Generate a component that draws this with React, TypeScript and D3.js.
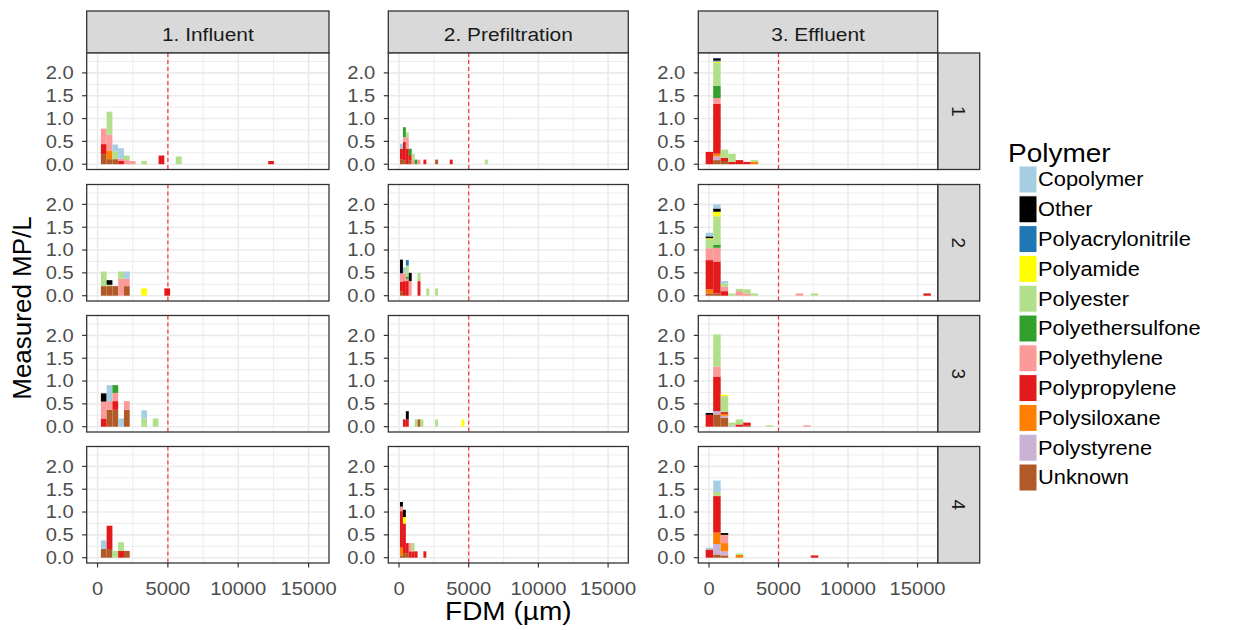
import React from "react";
import * as d3 from "d3";

const polymers = ["Copolymer", "Other", "Polyacrylonitrile", "Polyamide", "Polyester", "Polyethersulfone", "Polyethylene", "Polypropylene", "Polysiloxane", "Polystyrene", "Unknown"];
const polymerColors = ["#A6CEE3", "#000000", "#1F78B4", "#FFFF00", "#B2DF8A", "#33A02C", "#FB9A99", "#E31A1C", "#FF7F00", "#CAB2D6", "#B15928"];
const stages = ["1. Influent", "2. Prefiltration", "3. Effluent"];
const replicates = ["1", "2", "3", "4"];
const binWidth = [410, 210, 540];
const binStart = [237, 70, -240];
const xTicks = [0, 5000, 10000, 15000];
const xMinor = [2500, 7500, 12500];
const yTicks = [0, 0.5, 1, 1.5, 2];
const yMinor = [0.25, 0.75, 1.25, 1.75, 2.25];
const fdmLimit = 5000;

type Seg = [number, string, number];

const influent1: Seg[] = [
  [0, "Unknown", 0.22], [0, "Polypropylene", 0.22], [0, "Polyethylene", 0.34],
  [1, "Unknown", 0.11], [1, "Polysiloxane", 0.19], [1, "Polyethylene", 0.35], [1, "Polyester", 0.5],
  [2, "Unknown", 0.11], [2, "Polyester", 0.17], [2, "Copolymer", 0.15],
  [3, "Polypropylene", 0.07], [3, "Polyethylene", 0.05], [3, "Copolymer", 0.23],
  [4, "Polyethylene", 0.09], [4, "Polyester", 0.1],
  [5, "Polyethylene", 0.07],
  [7, "Polyester", 0.07],
  [10, "Polypropylene", 0.19],
  [13, "Polyester", 0.17],
  [29, "Polypropylene", 0.07],
];
const influent2: Seg[] = [
  [0, "Unknown", 0.21], [0, "Polyester", 0.32],
  [1, "Unknown", 0.21], [1, "Polyester", 0.03], [1, "Other", 0.1],
  [2, "Unknown", 0.21],
  [3, "Polyethylene", 0.37], [3, "Polyester", 0.16],
  [4, "Unknown", 0.21], [4, "Polyethylene", 0.16], [4, "Copolymer", 0.16],
  [7, "Polyamide", 0.16],
  [11, "Polypropylene", 0.16],
];
const influent3: Seg[] = [
  [0, "Polypropylene", 0.18], [0, "Polyethylene", 0.37], [0, "Other", 0.18],
  [1, "Unknown", 0.37], [1, "Polyethylene", 0.19], [1, "Copolymer", 0.35],
  [2, "Unknown", 0.37], [2, "Polypropylene", 0.19], [2, "Polyethylene", 0.18], [2, "Polyethersulfone", 0.17],
  [3, "Copolymer", 0.18],
  [4, "Unknown", 0.37], [4, "Polyethylene", 0.19],
  [7, "Polyester", 0.18], [7, "Copolymer", 0.18],
  [9, "Polyester", 0.18],
];
const influent4: Seg[] = [
  [0, "Unknown", 0.19], [0, "Copolymer", 0.19],
  [1, "Unknown", 0.19], [1, "Polypropylene", 0.51],
  [2, "Polyester", 0.15],
  [3, "Polypropylene", 0.15], [3, "Polyester", 0.19],
  [4, "Unknown", 0.15],
];
const prefiltration1: Seg[] = [
  [0, "Unknown", 0.1], [0, "Polypropylene", 0.24], [0, "Copolymer", 0.11],
  [1, "Unknown", 0.09], [1, "Polypropylene", 0.4], [1, "Polyethylene", 0.1], [1, "Polyethersulfone", 0.22],
  [2, "Polypropylene", 0.34], [2, "Polyethylene", 0.25], [2, "Polyester", 0.11],
  [3, "Unknown", 0.09], [3, "Polypropylene", 0.11], [3, "Polyethersulfone", 0.14],
  [4, "Polyethylene", 0.09], [4, "Polyester", 0.14],
  [5, "Polyethersulfone", 0.1],
  [6, "Polyethylene", 0.1],
  [8, "Polypropylene", 0.1],
  [12, "Unknown", 0.1],
  [17, "Polypropylene", 0.1],
  [29, "Polyester", 0.1],
];
const prefiltration2: Seg[] = [
  [0, "Unknown", 0.1], [0, "Polypropylene", 0.21], [0, "Polyethylene", 0.18], [0, "Other", 0.3],
  [1, "Polypropylene", 0.32], [1, "Polyethylene", 0.17], [1, "Copolymer", 0.13],
  [2, "Polypropylene", 0.32], [2, "Polyethylene", 0.05], [2, "Polyethersulfone", 0.05], [2, "Polyester", 0.24], [2, "Polyacrylonitrile", 0.12],
  [3, "Polyethylene", 0.32], [3, "Other", 0.18],
  [6, "Polypropylene", 0.32], [6, "Polyester", 0.18],
  [9, "Polyester", 0.16],
  [12, "Polyester", 0.16],
];
const prefiltration3: Seg[] = [
  [1, "Polypropylene", 0.16],
  [2, "Polypropylene", 0.16], [2, "Other", 0.18],
  [5, "Polyester", 0.16],
  [6, "Unknown", 0.16],
  [7, "Polyester", 0.16],
  [12, "Polyester", 0.16],
  [21, "Polyamide", 0.16],
];
const prefiltration4: Seg[] = [
  [0, "Unknown", 0.05], [0, "Polysiloxane", 0.17], [0, "Polypropylene", 0.8], [0, "Polyethylene", 0.1], [0, "Other", 0.1],
  [1, "Unknown", 0.1], [1, "Polypropylene", 0.65], [1, "Polyamide", 0.14], [1, "Other", 0.16],
  [2, "Unknown", 0.1], [2, "Polypropylene", 0.22],
  [3, "Polypropylene", 0.14], [3, "Polyethylene", 0.18],
  [4, "Polypropylene", 0.14], [4, "Polyester", 0.18],
  [5, "Polypropylene", 0.14],
  [8, "Polypropylene", 0.14],
];
const effluent1: Seg[] = [
  [0, "Polypropylene", 0.27],
  [1, "Unknown", 0.09], [1, "Polystyrene", 0.08], [1, "Polysiloxane", 0.06], [1, "Polypropylene", 1.09], [1, "Polyethylene", 0.13], [1, "Polyethersulfone", 0.27], [1, "Polyester", 0.5], [1, "Polyamide", 0.03], [1, "Polyacrylonitrile", 0.02], [1, "Other", 0.05],
  [2, "Unknown", 0.07], [2, "Polypropylene", 0.07], [2, "Polyester", 0.18],
  [3, "Polypropylene", 0.05], [3, "Polyester", 0.18],
  [4, "Polypropylene", 0.09],
  [5, "Polypropylene", 0.05],
  [6, "Polysiloxane", 0.05], [6, "Polyester", 0.04],
];
const effluent2: Seg[] = [
  [0, "Unknown", 0.05], [0, "Polysiloxane", 0.09], [0, "Polypropylene", 0.64], [0, "Polyethylene", 0.26], [0, "Polyester", 0.2], [0, "Polyamide", 0.02], [0, "Other", 0.04], [0, "Copolymer", 0.08],
  [1, "Unknown", 0.05], [1, "Polypropylene", 0.7], [1, "Polyethylene", 0.3], [1, "Polyethersulfone", 0.07], [1, "Polyester", 0.62], [1, "Polyamide", 0.1], [1, "Other", 0.07], [1, "Copolymer", 0.09],
  [2, "Polypropylene", 0.1], [2, "Polyethylene", 0.1], [2, "Polyester", 0.07], [2, "Copolymer", 0.05],
  [3, "Polyester", 0.05],
  [4, "Polyethylene", 0.1], [4, "Polyester", 0.05],
  [5, "Polyethylene", 0.05], [5, "Polyester", 0.09],
  [6, "Polyester", 0.05],
  [12, "Polyethylene", 0.05],
  [14, "Polyester", 0.05],
  [29, "Polypropylene", 0.05],
];
const effluent3: Seg[] = [
  [0, "Polypropylene", 0.26], [0, "Other", 0.04],
  [1, "Unknown", 0.27], [1, "Polystyrene", 0.07], [1, "Polypropylene", 0.76], [1, "Polyethylene", 0.22], [1, "Polyester", 0.7],
  [2, "Unknown", 0.2], [2, "Polystyrene", 0.04], [2, "Polysiloxane", 0.04], [2, "Polypropylene", 0.04], [2, "Polyester", 0.35], [2, "Polyamide", 0.03],
  [3, "Polystyrene", 0.03], [3, "Polyester", 0.06],
  [4, "Polypropylene", 0.05], [4, "Polyester", 0.11],
  [5, "Unknown", 0.02], [5, "Polypropylene", 0.07],
  [8, "Polyester", 0.03],
  [13, "Polyethylene", 0.03],
];
const effluent4: Seg[] = [
  [0, "Polypropylene", 0.18], [0, "Copolymer", 0.04],
  [1, "Unknown", 0.07], [1, "Polystyrene", 0.23], [1, "Polysiloxane", 0.25], [1, "Polypropylene", 0.8], [1, "Polyester", 0.09], [1, "Copolymer", 0.25],
  [2, "Unknown", 0.05], [2, "Polystyrene", 0.09], [2, "Polysiloxane", 0.18], [2, "Polyethylene", 0.18], [2, "Other", 0.04],
  [4, "Polysiloxane", 0.06], [4, "Polyester", 0.03],
  [14, "Polypropylene", 0.05],
];

const panelData: Seg[][][] = [
  [influent1, prefiltration1, effluent1],
  [influent2, prefiltration2, effluent2],
  [influent3, prefiltration3, effluent3],
  [influent4, prefiltration4, effluent4],
];

// layout
const colLeft = [86.7, 388.3, 698.3];
const colWidth = [242.3, 240, 239.4];
const rowTop = [53, 184.5, 315.5, 446.5];
const PH = 116.5;
const stripTop = 11;
const FONT = "'Liberation Sans', Arial, sans-serif";
const SX = 1.12;

function T(props: any) {
  const { x, y, size, fill = "#4D4D4D", anchor = "start", sx = SX, rotate = 0, children } = props;
  return (
    <text
      transform={`translate(${x},${y}) rotate(${rotate}) scale(${sx},1)`}
      fontSize={size}
      fill={fill}
      textAnchor={anchor}
      fontFamily={FONT}
    >
      {children}
    </text>
  );
}

function stackPanel(data: Seg[], col: number) {
  const byBin = d3.group(data, (d) => d[0]);
  const out: { x0: number; x1: number; y0: number; y1: number; color: string; key: string }[] = [];
  for (const [bin, segs] of byBin) {
    const sorted = segs.slice().sort((a, b) => polymers.indexOf(b[1]) - polymers.indexOf(a[1]));
    let acc = 0;
    for (const s of sorted) {
      const x0 = binStart[col] + bin * binWidth[col];
      out.push({
        x0,
        x1: x0 + binWidth[col],
        y0: acc,
        y1: acc + s[2],
        color: polymerColors[polymers.indexOf(s[1])],
        key: `${bin}-${s[1]}`,
      });
      acc += s[2];
    }
  }
  return out;
}

export default function App() {
  const stacked = panelData.map((row) => row.map((d, c) => stackPanel(d, c)));
  const yMax = d3.max(stacked.flat(2), (s) => s.y1) as number;
  const y = d3.scaleLinear().domain([-0.05 * yMax, 1.05 * yMax]).range([PH, 0]);
  const xScales = colWidth.map((w) => d3.scaleLinear().domain([-770, 16450]).range([0, w]));

  return (
    <svg width={1237} height={630} style={{ position: "absolute", left: 0, top: 0, background: "#fff" }}>
      <rect x={0} y={0} width={1237} height={630} fill="#ffffff" />
      {stages.map((s, c) => (
        <g key={s}>
          <rect x={colLeft[c]} y={stripTop} width={colWidth[c]} height={rowTop[0] - stripTop} fill="#D9D9D9" stroke="#333333" strokeWidth={1.3} />
          <T x={colLeft[c] + colWidth[c] / 2} y={40.5} size={19} fill="#1A1A1A" anchor="middle" sx={1.1}>{s}</T>
        </g>
      ))}
      {replicates.map((r, i) => (
        <g key={r}>
          <rect x={colLeft[2] + colWidth[2]} y={rowTop[i]} width={42} height={PH} fill="#D9D9D9" stroke="#333333" strokeWidth={1.3} />
          <T x={colLeft[2] + colWidth[2] + 21 - 6.8} y={rowTop[i] + PH / 2} size={19} fill="#1A1A1A" anchor="middle" sx={1} rotate={90}>{r}</T>
        </g>
      ))}
      {panelData.map((row, r) =>
        row.map((_, c) => {
          const x = xScales[c];
          const L = colLeft[c];
          const Tp = rowTop[r];
          const W = colWidth[c];
          return (
            <g key={`${r}-${c}`}>
              <g transform={`translate(${L},${Tp})`}>
                <rect x={0} y={0} width={W} height={PH} fill="#ffffff" />
                {xMinor.map((v) => (
                  <line key={`xm${v}`} x1={x(v)} x2={x(v)} y1={0} y2={PH} stroke="#EBEBEB" strokeWidth={0.9} />
                ))}
                {yMinor.map((v) => (
                  <line key={`ym${v}`} x1={0} x2={W} y1={y(v)} y2={y(v)} stroke="#EBEBEB" strokeWidth={0.9} />
                ))}
                {xTicks.map((v) => (
                  <line key={`xM${v}`} x1={x(v)} x2={x(v)} y1={0} y2={PH} stroke="#EBEBEB" strokeWidth={1.6} />
                ))}
                {yTicks.map((v) => (
                  <line key={`yM${v}`} x1={0} x2={W} y1={y(v)} y2={y(v)} stroke="#EBEBEB" strokeWidth={1.6} />
                ))}
                {stacked[r][c].map((s) => (
                  <rect key={s.key} x={x(s.x0)} width={x(s.x1) - x(s.x0)} y={y(s.y1)} height={y(s.y0) - y(s.y1)} fill={s.color} />
                ))}
                <line x1={x(fdmLimit)} x2={x(fdmLimit)} y1={0} y2={PH} stroke="#FF0000" strokeOpacity={0.8} strokeWidth={1.2} strokeDasharray="4,3" />
                <rect x={0} y={0} width={W} height={PH} fill="none" stroke="#333333" strokeWidth={1.3} />
              </g>
              {yTicks.map((v) => (
                <g key={`yt${v}`}>
                  <line x1={L - 4.5} x2={L} y1={Tp + y(v)} y2={Tp + y(v)} stroke="#333333" strokeWidth={1.2} />
                  <T x={L - 13} y={Tp + y(v) + 6.4} size={18} anchor="end">{d3.format(".1f")(v)}</T>
                </g>
              ))}
              {r === 3 &&
                xTicks.map((v) => (
                  <g key={`xt${v}`}>
                    <line x1={L + x(v)} x2={L + x(v)} y1={Tp + PH} y2={Tp + PH + 4.5} stroke="#333333" strokeWidth={1.2} />
                    <T x={L + x(v)} y={595} size={18} anchor="middle">{String(v)}</T>
                  </g>
                ))}
            </g>
          );
        })
      )}
      <T x={colLeft[1] + colWidth[1] / 2} y={620} size={25} fill="#000000" anchor="middle">FDM (µm)</T>
      <T x={31} y={308} size={26} fill="#000000" anchor="middle" sx={1} rotate={-90}>Measured MP/L</T>
      <T x={1008} y={162} size={25} fill="#000000" sx={1.12}>Polymer</T>
      {polymers.map((p, i) => (
        <g key={p}>
          <rect x={1019} y={166 + i * 29.8} width={18} height={27} fill={polymerColors[i]} stroke="#ffffff" strokeWidth={1} />
          <T x={1038} y={166 + i * 29.8 + 13.5 + 6.8} size={19.5} fill="#000000" sx={1.12}>{p}</T>
        </g>
      ))}
    </svg>
  );
}
